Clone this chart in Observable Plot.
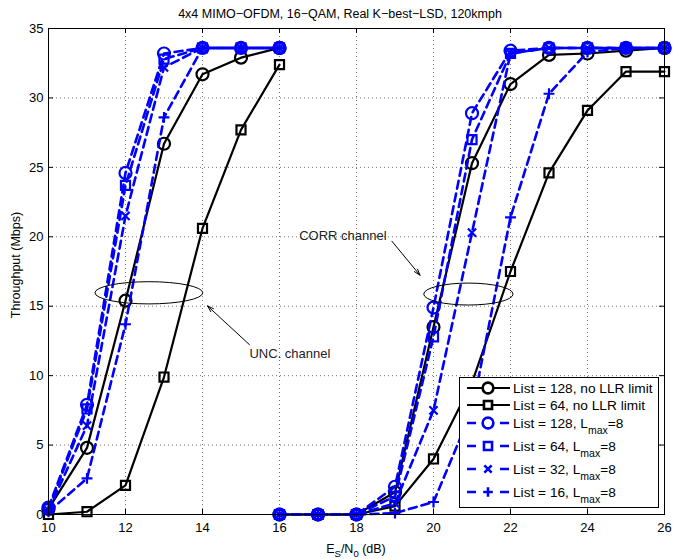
<!DOCTYPE html>
<html>
<head>
<meta charset="utf-8">
<script src="https://cdn.jsdelivr.net/npm/d3@7"></script>
<script src="https://cdn.jsdelivr.net/npm/@observablehq/plot@0.6"></script>
<style>
  body { margin: 0; background: #fff; }
  #chart svg { display: block; }
</style>
</head>
<body>
<div id="chart"></div>
<script>
// Throughput (Mbps) versus Es/N0 (dB) for K-best list sphere decoding,
// uncorrelated channel (10–16 dB) and correlated channel (16–26 dB).
const snrUnc  = [10, 11, 12, 13, 14, 15, 16];
const snrCorr = [16, 17, 18, 19, 20, 21, 22, 23, 24, 25, 26];

// Uncorrelated channel
const unc128NoLimit = [0.4, 4.8, 15.4, 26.7, 31.7, 32.9, 33.6];
const unc64NoLimit  = [0.0, 0.2, 2.1, 9.9, 20.6, 27.7, 32.4];
const unc128Lmax8   = [0.5, 7.9, 24.6, 33.2, 33.6, 33.6, 33.6];
const unc64Lmax8    = [0.4, 7.6, 23.7, 32.8, 33.6, 33.6, 33.6];
const unc32Lmax8    = [0.3, 6.4, 21.5, 32.2, 33.6, 33.6, 33.6];
const unc16Lmax8    = [0.2, 2.6, 13.7, 28.6, 33.6, 33.6, 33.6];

// Correlated channel
const corr128NoLimit = [0, 0, 0, 1.6, 13.5, 25.3, 31.0, 33.1, 33.2, 33.4, 33.6];
const corr64NoLimit  = [0, 0, 0, 0.6, 4.0, 9.5, 17.5, 24.6, 29.1, 31.9, 31.9];
const corr128Lmax8   = [0, 0, 0, 2.0, 14.9, 28.9, 33.4, 33.6, 33.6, 33.6, 33.6];
const corr64Lmax8    = [0, 0, 0, 1.3, 12.8, 27.0, 33.2, 33.6, 33.6, 33.6, 33.6];
const corr32Lmax8    = [0, 0, 0, 0.8, 7.5, 20.3, 33.2, 33.6, 33.6, 33.6, 33.6];
const corr16Lmax8    = [0, 0, 0, 0.1, 0.9, 7.5, 21.4, 30.3, 33.3, 33.6, 33.6];

const seriesLabels = [
  "List = 128, no LLR limit",
  "List = 64, no LLR limit",
  "List = 128, L_max=8",
  "List = 64, L_max=8",
  "List = 32, L_max=8",
  "List = 16, L_max=8"
];

const xTicks = [10, 12, 14, 16, 18, 20, 22, 24, 26];
const yTicks = [0, 5, 10, 15, 20, 25, 30, 35];

const titleText = "4x4 MIMO\u2212OFDM, 16\u2212QAM, Real K\u2212best\u2212LSD, 120kmph";
const yLabelText = "Throughput (Mbps)";
const annoLabels = ["UNC. channel", "CORR channel"];

// Annotation geometry, in data units
const annoTextX = [15.22, 16.51];
const annoTextY = [11.6, 20.1];
const arrowFromX = [15.22, 18.92];
const arrowFromY = [12.23, 19.68];
const arrowToX = [14.13, 19.65];
const arrowToY = [15.02, 17.23];
const ellipseCx = [12.62, 20.92];
const ellipseCy = [15.93, 15.84];
const ellipseRx = [1.40, 1.16];
const ellipseRy = [0.80, 0.79];

// Line/marker styles per series
const BLUE = "#0000ff";
const styles = [
  {color: "#000", dash: null, width: 2.2, symbol: "circle", r: 6},
  {color: "#000", dash: null, width: 2.2, symbol: "square", r: 5.1},
  {color: BLUE, dash: "8,5", width: 2.6, symbol: "circle", r: 6},
  {color: BLUE, dash: "8,5", width: 2.6, symbol: "square", r: 5.1},
  {color: BLUE, dash: "8,5", width: 2.6, symbol: "times", r: 3.8},
  {color: BLUE, dash: "8,5", width: 2.6, symbol: "plus", r: 3.6}
];

const uncSets = [unc128NoLimit, unc64NoLimit, unc128Lmax8, unc64Lmax8, unc32Lmax8, unc16Lmax8];
const corrSets = [corr128NoLimit, corr64NoLimit, corr128Lmax8, corr64Lmax8, corr32Lmax8, corr16Lmax8];

const series = seriesLabels.map((label, k) => ({
  label,
  ...styles[k],
  rows: [
    ...snrUnc.map((x, i) => ({x, y: uncSets[k][i], seg: "unc"})),
    ...snrCorr.map((x, i) => ({x, y: corrSets[k][i], seg: "corr"}))
  ]
}));

const W = 673, H = 559;
const M = {top: 28, right: 9, bottom: 45, left: 48};
const innerH = H - M.top - M.bottom;
const innerW = W - M.left - M.right;
const TICK = 5;
const FONT = "'Liberation Sans', Arial, Helvetica, sans-serif";

const marks = [
  // dotted grid
  Plot.ruleX(xTicks.slice(1, -1), {stroke: "#000", strokeOpacity: 0.55, strokeWidth: 1, strokeDasharray: "1,3"}),
  Plot.ruleY(yTicks.slice(1, -1), {stroke: "#000", strokeOpacity: 0.55, strokeWidth: 1, strokeDasharray: "1,3"}),
  // inward ticks on all four sides
  Plot.tickX(xTicks, {x: d => d, insetTop: innerH - TICK, stroke: "#000"}),
  Plot.tickX(xTicks, {x: d => d, insetBottom: innerH - TICK, stroke: "#000"}),
  Plot.tickY(yTicks, {y: d => d, insetRight: innerW - TICK, stroke: "#000"}),
  Plot.tickY(yTicks, {y: d => d, insetLeft: innerW - TICK, stroke: "#000"}),
  Plot.axisX(xTicks, {tickSize: 0, tickPadding: 8, fontSize: 13, label: null}),
  Plot.axisY(yTicks, {tickSize: 0, tickPadding: 5, fontSize: 13, label: null})
];

for (const s of series) {
  marks.push(Plot.line(s.rows, {
    x: "x", y: "y", z: "seg",
    stroke: s.color, strokeWidth: s.width,
    strokeDasharray: s.dash ?? undefined
  }));
  marks.push(Plot.dot(s.rows, {
    x: "x", y: "y", symbol: s.symbol, r: s.r,
    stroke: s.color, strokeWidth: 2.2, fill: "none"
  }));
}

const annoRows = annoLabels.map((text, i) => ({
  text, tx: annoTextX[i], ty: annoTextY[i],
  x1: arrowFromX[i], y1: arrowFromY[i], x2: arrowToX[i], y2: arrowToY[i]
}));

marks.push(
  Plot.arrow(annoRows, {x1: "x1", y1: "y1", x2: "x2", y2: "y2", stroke: "#000", strokeWidth: 1, headLength: 10, headAngle: 35}),
  Plot.text(annoRows, {x: "tx", y: "ty", text: "text", textAnchor: "start", fontSize: 13, fill: "#222"}),
  Plot.frame({stroke: "#000", strokeWidth: 1})
);

const plot = Plot.plot({
  width: W,
  height: H,
  marginTop: M.top,
  marginRight: M.right,
  marginBottom: M.bottom,
  marginLeft: M.left,
  style: {fontFamily: FONT, fontSize: "13px", background: "#fff", color: "#000"},
  x: {domain: [10, 26]},
  y: {domain: [0, 35]},
  marks
});

document.getElementById("chart").appendChild(plot);

// Extras drawn with the plot's own scales
const sx = plot.scale("x"), sy = plot.scale("y");
const svg = d3.select(plot);

// ellipses around each channel group
const eg = svg.append("g").attr("fill", "none").attr("stroke", "#000").attr("stroke-width", 1);
ellipseCx.forEach((cx, i) => {
  const px = sx.apply(cx), py = sy.apply(ellipseCy[i]);
  eg.append("ellipse")
    .attr("cx", px).attr("cy", py)
    .attr("rx", sx.apply(cx + ellipseRx[i]) - px)
    .attr("ry", py - sy.apply(ellipseCy[i] + ellipseRy[i]));
});

// title
svg.append("text")
  .attr("x", 340).attr("y", 18)
  .attr("text-anchor", "middle")
  .attr("font-size", 12.5)
  .attr("fill", "#000")
  .text(titleText);

// y label
svg.append("text")
  .attr("transform", `translate(19.5,${(M.top + H - M.bottom) / 2 - 6}) rotate(-90)`)
  .attr("text-anchor", "middle")
  .attr("font-size", 12.5)
  .attr("fill", "#000")
  .text(yLabelText);

// x label with subscripts
const xl = svg.append("text")
  .attr("x", M.left + innerW / 2)
  .attr("y", 553)
  .attr("text-anchor", "middle")
  .attr("font-size", 12.5)
  .attr("fill", "#000");
xl.append("tspan").text("E");
xl.append("tspan").attr("dy", 4).attr("font-size", 9.5).text("S");
xl.append("tspan").attr("dy", -4).text("/N");
xl.append("tspan").attr("dy", 4).attr("font-size", 9.5).text("0");
xl.append("tspan").attr("dy", -4).text(" (dB)");

// legend
const LG = {x: 459.5, y: 377.5, w: 199, h: 130};
const rowY = [388, 405, 423, 446, 469, 492];
const lg = svg.append("g").attr("text-anchor", "start");
lg.append("rect")
  .attr("x", LG.x).attr("y", LG.y).attr("width", LG.w).attr("height", LG.h)
  .attr("fill", "#fff").attr("stroke", "#000").attr("stroke-width", 1);

const symbolTypes = {circle: d3.symbolCircle, square: d3.symbolSquare, times: d3.symbolTimes, plus: d3.symbolPlus};
series.forEach((s, i) => {
  const y = rowY[i];
  lg.append("line")
    .attr("x1", 467).attr("x2", 510).attr("y1", y).attr("y2", y)
    .attr("stroke", s.color).attr("stroke-width", s.width)
    .attr("stroke-dasharray", s.dash ? "9,24" : null);
  lg.append("path")
    .attr("transform", `translate(488,${y})`)
    .attr("d", d3.symbol(symbolTypes[s.symbol], Math.PI * s.r * s.r * 0.8)())
    .attr("fill", s.symbol === "circle" || s.symbol === "square" ? "#fff" : "none")
    .attr("stroke", s.color).attr("stroke-width", 2.6);
  const t = lg.append("text")
    .attr("x", 513).attr("y", y + 4.8)
    .attr("text-anchor", "start")
    .attr("font-size", 13.7).attr("fill", "#000");
  const parts = s.label.split("_max");
  t.append("tspan").text(parts[0]);
  if (parts.length > 1) {
    t.append("tspan").attr("dy", 6).attr("font-size", 10.5).text("max");
    t.append("tspan").attr("dy", -6).text(parts[1]);
  }
});
</script>
</body>
</html>
